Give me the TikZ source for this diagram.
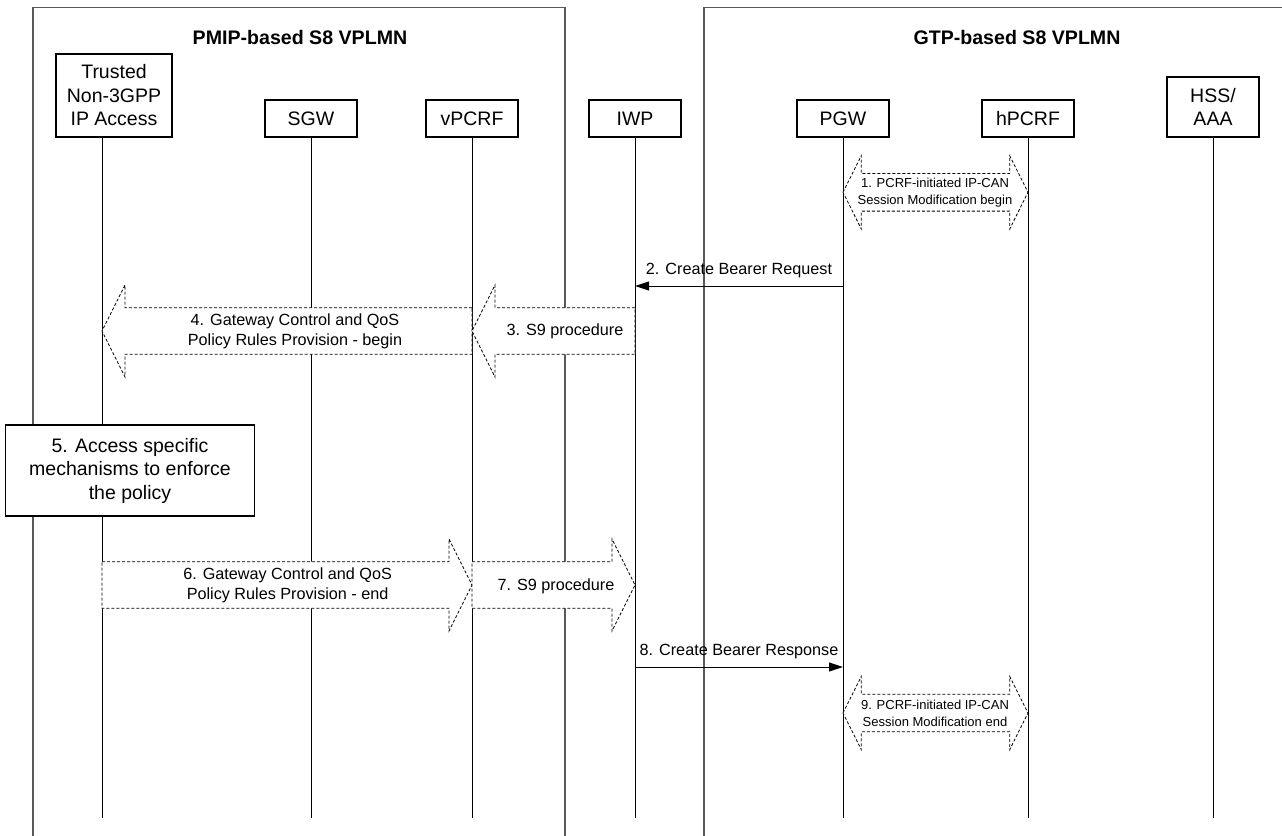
\documentclass[tikz,border=0pt]{standalone}
\usepackage{fontspec}
\setmainfont{Liberation Sans}
\usetikzlibrary{arrows.meta,calc}

\tikzset{
  entity/.style={draw, line width=0.6pt, fill=white, minimum width=46pt,
    minimum height=18.5pt, align=center, inner sep=2pt,
    font=\fontsize{9.75}{11.75}\selectfont},
  region/.style={draw=black!65, line width=0.7pt},
  regiontitle/.style={font=\bfseries\fontsize{9.8}{12}\selectfont},
  lifeline/.style={line width=0.5pt},
  msg/.style={line width=0.5pt, -{Triangle[length=7pt,width=4.5pt]}},
  msglabel/.style={midway, anchor=base, yshift=6pt, inner sep=0pt,
    font=\fontsize{8.1}{10}\selectfont},
  blockarr/.style={draw, fill=white, line width=0.4pt, dash pattern=on 1.5pt off 1pt},
  blocktext/.style={align=center, font=\fontsize{8.1}{10}\selectfont},
  smalltext/.style={align=center, font=\fontsize{6.5}{8.35}\selectfont}
}

% wide dashed arrow: #1 tail, #2 tip, #3 middle y, #4 head length (+ points left)
\newcommand{\bigarrow}[4]{%
  \draw[blockarr] (#1 |- 0,#3-23.3) -- ($(#2 |- 0,#3-23.3)+(#4,0)$)
    -- ($(#2 |- 0,#3-46)+(#4,0)$) -- (#2 |- 0,#3)
    -- ($(#2 |- 0,#3+46)+(#4,0)$) -- ($(#2 |- 0,#3+23.3)+(#4,0)$)
    -- (#1 |- 0,#3+23.3) -- cycle;}

% two-headed dashed arrow between #1 (left) and #2 (right) at y #3
\newcommand{\dblarrow}[3]{%
  \draw[blockarr] (#1 |- 0,#3) -- ($(#1 |- 0,#3-36.7)+(18.3,0)$)
    -- ($(#1 |- 0,#3-18.8)+(18.3,0)$) -- ($(#2 |- 0,#3-18.8)+(-18.3,0)$)
    -- ($(#2 |- 0,#3-36.7)+(-18.3,0)$) -- (#2 |- 0,#3)
    -- ($(#2 |- 0,#3+36.7)+(-18.3,0)$) -- ($(#2 |- 0,#3+18.8)+(-18.3,0)$)
    -- ($(#1 |- 0,#3+18.8)+(18.3,0)$) -- ($(#1 |- 0,#3+36.7)+(18.3,0)$) -- cycle;}

\begin{document}
\begin{tikzpicture}[x=0.5pt, y=-0.5pt]
  \useasboundingbox (0,0) rectangle (1282,836);

  % the two networks
  \draw[region] (33,836) -- (33,7.3) -- (565,7.3) -- (565,836);
  \draw[region] (704,836) -- (704,7.3) -- (1282,7.3);
  \node[regiontitle] (pmip) at (300,37.5) {PMIP-based S8 VPLMN};
  \node[regiontitle] (gtp) at (1017,37.5) {GTP-based S8 VPLMN};

  % entities
  \node[entity, minimum width=58pt, minimum height=41.5pt] (tnabox) at (114,95.5) {Trusted\\Non-3GPP\\IP Access};
  \coordinate (tna) at (102,137);
  \node[entity] (sgw) at (311,118.5) {SGW};
  \node[entity] (vpcrf) at (472,118.5) {vPCRF};
  \node[entity] (iwp) at (635,118.5) {IWP};
  \node[entity] (pgw) at (843,118.5) {PGW};
  \node[entity] (hpcrf) at (1028,118.5) {hPCRF};
  \node[entity, minimum height=30pt] (hss) at (1213,107) {HSS/\\AAA};

  \foreach \n in {tna,sgw,vpcrf,iwp,pgw,hpcrf,hss}
    \draw[lifeline] (\n |- 0,137) -- (\n |- 0,818);

  % 1
  \dblarrow{pgw}{hpcrf}{192.3}
  \node[smalltext] (m1) at (935,192.5) {1. PCRF-initiated IP-CAN\\Session Modification begin};

  % 2
  \draw[msg] (pgw |- 0,286) -- node[msglabel] {2. Create Bearer Request} (iwp |- 0,286);

  % 3 and 4
  \bigarrow{vpcrf}{tna}{331}{23}
  \node[blocktext] (m4) at (295,331.7) {4. Gateway Control and QoS\\Policy Rules Provision - begin};
  \bigarrow{iwp}{vpcrf}{331}{23}
  \node[blocktext] (m3) at (565,331.7) {3. S9 procedure};

  % 5
  \node[entity, minimum width=124.3pt, minimum height=45.5pt] (enf) at (130,470.5) {5. Access specific\\mechanisms to enforce\\the policy};

  % 6 and 7
  \bigarrow{tna}{vpcrf}{585}{-23}
  \node[blocktext] (m6) at (287.6,585) {6. Gateway Control and QoS\\Policy Rules Provision - end};
  \bigarrow{vpcrf}{iwp}{585}{-23}
  \node[blocktext] (m7) at (556,586) {7. S9 procedure};

  % 8
  \draw[msg] (iwp |- 0,667) -- node[msglabel] {8. Create Bearer Response} (pgw |- 0,667);

  % 9
  \dblarrow{pgw}{hpcrf}{713}
  \node[smalltext] (m9) at (935,713.3) {9. PCRF-initiated IP-CAN\\Session Modification end};
\end{tikzpicture}
\end{document}
